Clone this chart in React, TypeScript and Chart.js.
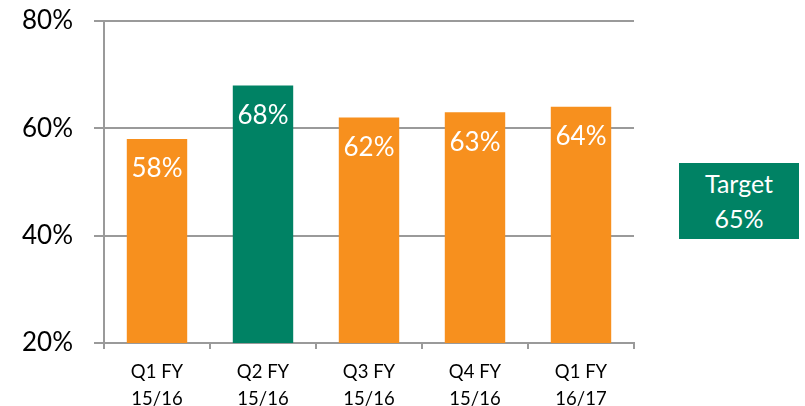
import React, { useEffect, useRef } from "react";
import { Chart, registerables } from "chart.js";

Chart.register(...registerables);

const categories: string[][] = [
  ["Q1 FY", "15/16"],
  ["Q2 FY", "15/16"],
  ["Q3 FY", "15/16"],
  ["Q4 FY", "15/16"],
  ["Q1 FY", "16/17"],
];
const values: number[] = [58, 68, 62, 63, 64];
const barColors: string[] = ["#F7901E", "#008264", "#F7901E", "#F7901E", "#F7901E"];
const yTicks: number[] = [20, 40, 60, 80];
const targetLabel = "Target";
const targetValue = "65%";

const FONT = "Lato, 'Open Sans', sans-serif";

const dataLabelPlugin = {
  id: "dataLabels",
  afterDatasetsDraw(chart: any) {
    const ctx = chart.ctx;
    const meta = chart.getDatasetMeta(0);
    ctx.save();
    ctx.fillStyle = "#ffffff";
    ctx.font = `26px ${FONT}`;
    ctx.textAlign = "center";
    ctx.textBaseline = "middle";
    meta.data.forEach((bar: any, i: number) => {
      ctx.fillText(values[i] + "%", bar.x, bar.y + 30);
    });
    ctx.restore();
  },
};

export default function App() {
  const ref = useRef<HTMLCanvasElement>(null);
  useEffect(() => {
    document.body.style.margin = "0";
    const chart = new Chart(ref.current!, {
      type: "bar",
      data: {
        labels: categories,
        datasets: [
          {
            data: values,
            backgroundColor: barColors,
            barPercentage: 0.57,
            categoryPercentage: 1,
          },
        ],
      },
      options: {
        animation: false,
        responsive: false,
        layout: { padding: { top: 21, right: 171, left: 0, bottom: 0 } },
        plugins: { legend: { display: false }, tooltip: { enabled: false } },
        scales: {
          x: {
            grid: {
              drawOnChartArea: false,
              drawTicks: true,
              tickLength: 6,
              color: "#9a9a9a",
              lineWidth: 2,
            },
            border: { display: true, color: "#9a9a9a", width: 2 },
            ticks: {
              color: "#000",
              font: { family: FONT, size: 18.5, lineHeight: 1.45 },
              padding: 10,
              maxRotation: 0,
            },
            afterFit(scale: any) {
              scale.height = 63;
              scale.paddingLeft = 0;
              scale.paddingRight = 0;
            },
          },
          y: {
            min: 20,
            max: 80,
            afterBuildTicks(scale: any) {
              scale.ticks = yTicks.map((v) => ({ value: v }));
            },
            grid: {
              color: "#9a9a9a",
              lineWidth: 2,
              tickLength: 10,
            },
            border: { display: true, color: "#9a9a9a", width: 2 },
            ticks: {
              color: "#000",
              font: { family: FONT, size: 26 },
              padding: 21,
              callback: (v: any) => v + "%",
            },
            afterFit(scale: any) {
              scale.width = 104;
              scale.paddingTop = 0;
              scale.paddingBottom = 0;
            },
          },
        },
      },
      plugins: [dataLabelPlugin],
    });
    return () => chart.destroy();
  }, []);

  return (
    <div style={{ position: "relative", width: 805, height: 406 }}>
      <canvas ref={ref} width={805} height={406} style={{ display: "block" }} />
      <div
        style={{
          position: "absolute",
          left: 679,
          top: 163,
          width: 120,
          height: 76,
          background: "#008264",
          color: "#fff",
          fontFamily: FONT,
          fontSize: 25,
          lineHeight: "35px",
          textAlign: "center",
          display: "flex",
          flexDirection: "column",
          justifyContent: "center",
        }}
      >
        <div>{targetLabel}</div>
        <div>{targetValue}</div>
      </div>
    </div>
  );
}
